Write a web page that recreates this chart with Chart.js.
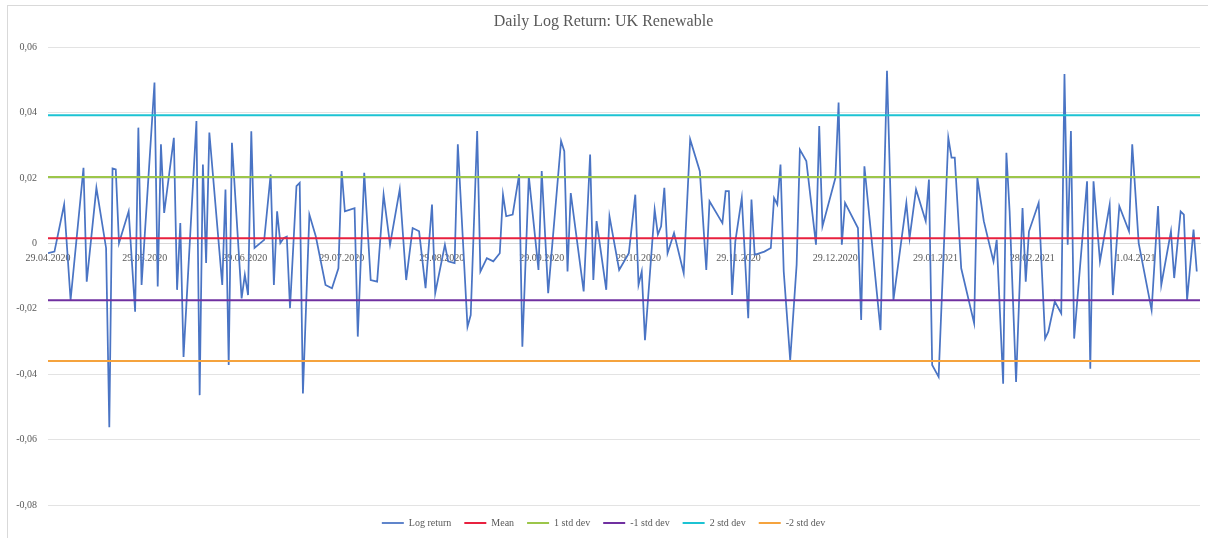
<!DOCTYPE html>
<html>
<head>
<meta charset="utf-8">
<title>Daily Log Return: UK Renewable</title>
<script src="https://cdn.jsdelivr.net/npm/chart.js@4.4.0/dist/chart.umd.min.js"></script>
<style>
  body { margin: 0; background: #fff; }
  #moldura { position: absolute; left: 7px; top: 5px; width: 1210px; height: 540px; border: 1px solid #d9d9d9; }
  #caixa { position: absolute; left: 0; top: 0; width: 1208px; height: 538px; }
</style>
</head>
<body>
<div id="moldura"></div>
<div id="caixa"><canvas id="chart"></canvas></div>
<script>
// dias desde 29.04.2020 (eixo de datas do Excel)
var days = [0, 2, 5, 7, 11, 12, 15, 18, 19, 20, 21, 22, 25, 27, 28, 29, 33, 34, 35, 36,
  39, 40, 41, 42, 46, 47, 48, 49, 50, 54, 55, 56, 57, 60, 61, 62, 63, 64, 67, 69,
  70, 71, 72, 73, 74, 75, 77, 78, 79, 81, 83, 86, 88, 90, 91, 92, 95, 96, 98, 100,
  102, 104, 106, 109, 111, 113, 115, 117, 119, 120, 123, 124, 126, 127, 130, 131, 133, 134, 136, 138,
  140, 141, 142, 144, 146, 147, 149, 152, 153, 155, 159, 160, 161, 162, 166, 168, 169, 170, 173, 174,
  177, 180, 182, 183, 184, 185, 188, 189, 190, 191, 192, 194, 197, 199, 202, 204, 205, 209, 210, 211,
  212, 213, 215, 217, 218, 219, 222, 224, 225, 226, 227, 228, 230, 232, 233, 235, 238, 239, 240, 244,
  245, 246, 247, 251, 252, 253, 258, 260, 262, 266, 267, 269, 272, 273, 274, 276, 279, 280, 281, 283,
  287, 288, 290, 293, 294, 296, 297, 298, 300, 302, 303, 304, 307, 309, 310, 312, 314, 315, 316, 317,
  318, 322, 323, 324, 326, 329, 330, 332, 335, 336, 338, 342, 344, 345, 348, 349, 351, 352, 353, 355,
  356];

var logReturn = [-0.0030, -0.0025, 0.0119, -0.0173, 0.0231, -0.0117, 0.0170, -0.0014, -0.0562, 0.0229,
  0.0226, 0.0001, 0.0098, -0.0209, 0.0354, -0.0127, 0.0492, -0.0132, 0.0303, 0.0093,
  0.0323, -0.0142, 0.0062, -0.0347, 0.0374, -0.0464, 0.0241, -0.0060, 0.0339, -0.0127,
  0.0165, -0.0372, 0.0308, -0.0168, -0.0096, -0.0158, 0.0343, -0.0014, 0.0011, 0.0211,
  -0.0127, 0.0098, 0.0001, 0.0016, 0.0021, -0.0198, 0.0175, 0.0185, -0.0459, 0.0088,
  0.0021, -0.0127, -0.0137, -0.0076, 0.0221, 0.0098, 0.0108, -0.0285, 0.0216, -0.0112,
  -0.0117, 0.0149, -0.0004, 0.0165, -0.0112, 0.0047, 0.0037, -0.0137, 0.0119, -0.0152,
  -0.0004, -0.0055, -0.0060, 0.0303, -0.0255, -0.0219, 0.0344, -0.0086, -0.0045, -0.0055,
  -0.0030, 0.0149, 0.0083, 0.0088, 0.0211, -0.0316, 0.0206, -0.0081, 0.0221, -0.0152,
  0.0313, 0.0282, -0.0086, 0.0154, -0.0147, 0.0272, -0.0112, 0.0068, -0.0142, 0.0083,
  -0.0081, -0.0030, 0.0149, -0.0127, -0.0086, -0.0296, 0.0103, 0.0027, 0.0052, 0.0170,
  -0.0030, 0.0032, -0.0091, 0.0318, 0.0221, -0.0081, 0.0129, 0.0062, 0.0160, 0.0160,
  -0.0158, 0.0006, 0.0139, -0.0229, 0.0134, -0.0035, -0.0025, -0.0014, 0.0139, 0.0119,
  0.0241, -0.0086, -0.0357, -0.0065, 0.0287, 0.0252, -0.0004, 0.0359, 0.0052, 0.0200,
  0.0431, -0.0004, 0.0124, 0.0047, -0.0234, 0.0236, -0.0265, 0.0528, -0.0173, 0.0124,
  0.0016, 0.0165, 0.0068, 0.0195, -0.0372, -0.0408, 0.0323, 0.0262, 0.0262, -0.0076,
  -0.0244, 0.0200, 0.0068, -0.0055, 0.0011, -0.0429, 0.0277, 0.0098, -0.0424, 0.0108,
  -0.0117, 0.0037, 0.0124, -0.0291, -0.0270, -0.0178, -0.0214, 0.0518, -0.0004, 0.0344,
  -0.0291, 0.0190, -0.0383, 0.0190, -0.0055, 0.0118, -0.0158, 0.0114, 0.0037, 0.0303,
  0.0001, -0.0204, 0.0114, -0.0127, 0.0037, -0.0106, 0.0098, 0.0088, -0.0173, 0.0042,
  -0.0086];

// linhas de referencia: media e desvios
var bandNames = ["Mean", "1 std dev", "-1 std dev", "2 std dev", "-2 std dev"];
var bandLevels = [0.0016, 0.0203, -0.0174, 0.0392, -0.0360];
var bandColors = ["#e8213f", "#9cc64a", "#7030a0", "#1cc3d3", "#f5a33d"];

var monthLabels = ["29.04.2020", "29.05.2020", "29.06.2020", "29.07.2020", "29.08.2020", "29.09.2020",
  "29.10.2020", "29.11.2020", "29.12.2020", "29.01.2021", "28.02.2021", "1.04.2021"];
var monthDays = [0, 30, 61, 91, 122, 153, 183, 214, 244, 275, 305, 337];

var yTicks = [-0.08, -0.06, -0.04, -0.02, 0, 0.02, 0.04, 0.06];

var xMin = 0;
var xMax = 357;
var fonte = "'Liberation Serif', 'Times New Roman', serif";

var datasets = [{
  label: "Log return",
  data: days.map(function (d, i) { return { x: d, y: logReturn[i] }; }),
  borderColor: "#4a74c4",
  borderWidth: 1.75,
  pointRadius: 0,
  tension: 0,
  order: 1
}];

for (var i = 0; i < bandNames.length; i++) {
  datasets.push({
    label: bandNames[i],
    data: [{ x: xMin, y: bandLevels[i] }, { x: xMax, y: bandLevels[i] }],
    borderColor: bandColors[i],
    borderWidth: 2,
    pointRadius: 0,
    order: 0
  });
}

var ctx = document.getElementById('chart').getContext('2d');
var chart = new Chart(ctx, {
  type: 'line',
  data: { datasets: datasets },
  options: {
    responsive: true,
    maintainAspectRatio: false,
    animation: false,
    layout: { padding: { left: 7, right: 8, top: 5, bottom: 0 } },
    plugins: {
      title: {
        display: true,
        text: "Daily Log Return: UK Renewable",
        color: "#595959",
        font: { family: fonte, size: 16, weight: 'normal' },
        padding: { top: 7, bottom: 16 }
      },
      legend: {
        position: 'bottom',
        labels: {
          usePointStyle: true,
          pointStyle: 'line',
          pointStyleWidth: 22,
          padding: 13,
          color: "#595959",
          font: { family: fonte, size: 10 },
          sort: function (a, b) { return a.datasetIndex - b.datasetIndex; }
        }
      },
      tooltip: { enabled: false }
    },
    scales: {
      x: {
        type: 'linear',
        min: xMin,
        max: xMax,
        position: { y: 0 },
        grid: { display: false, drawTicks: false },
        border: { display: true, color: "#d9d9d9" },
        afterBuildTicks: function (scale) {
          scale.ticks = monthDays.map(function (d) { return { value: d }; });
        },
        ticks: {
          autoSkip: false,
          maxRotation: 0,
          padding: 9,
          color: "#595959",
          font: { family: fonte, size: 10 },
          callback: function (value, index) { return monthLabels[index]; }
        }
      },
      y: {
        min: yTicks[0],
        max: yTicks[yTicks.length - 1],
        afterFit: function (scale) { scale.width = 41; },
        afterBuildTicks: function (scale) {
          scale.ticks = yTicks.map(function (v) { return { value: v }; });
        },
        grid: { color: "#e3e3e3", drawTicks: false },
        border: { display: false },
        ticks: {
          padding: 11,
          color: "#595959",
          font: { family: fonte, size: 10 },
          callback: function (value) {
            if (Math.abs(value) < 1e-9) return "0";
            return value.toFixed(2).replace(".", ",");
          }
        }
      }
    }
  }
});
</script>
</body>
</html>
